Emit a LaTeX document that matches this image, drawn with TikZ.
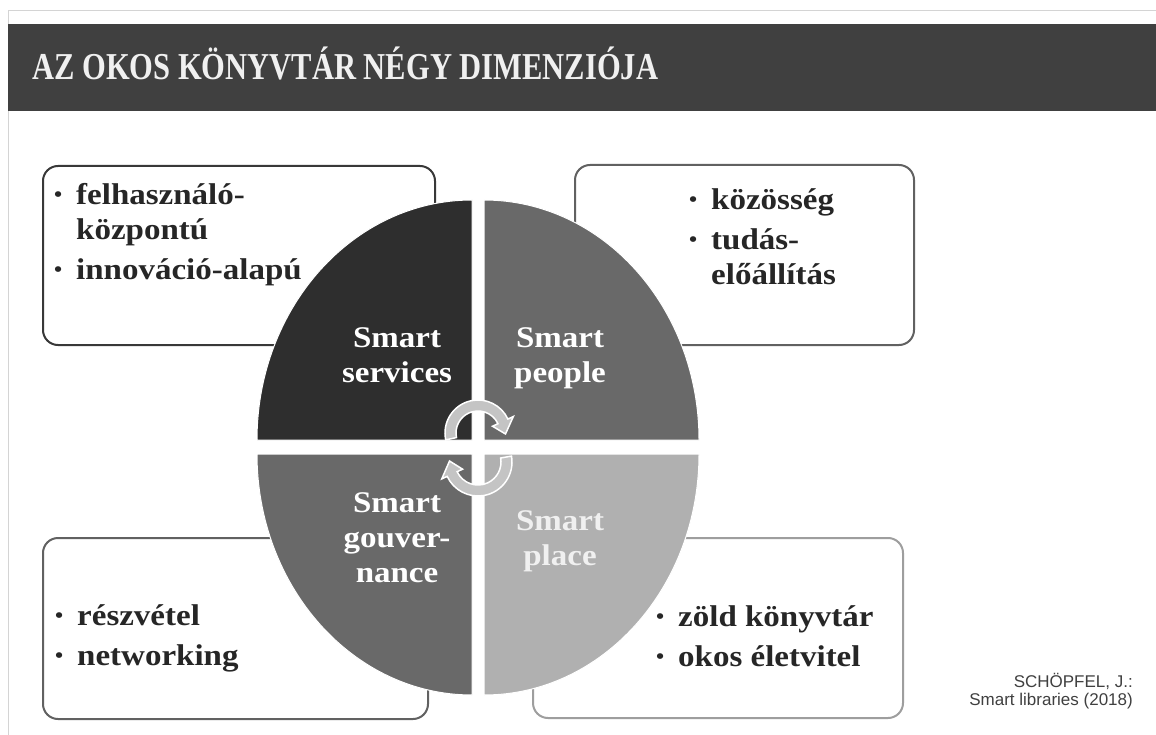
\documentclass[tikz,border=0pt]{standalone}
\usepackage{fontspec}
\setmainfont{Liberation Serif}
\setsansfont{Liberation Sans}
\newfontfamily\widefont{Liberation Serif}[FakeStretch=1.1]
\usepackage{xcolor}
\usetikzlibrary{calc}
\definecolor{bardark}{HTML}{404040}
\definecolor{qdark}{HTML}{2E2E2E}
\definecolor{qmid}{HTML}{696969}
\definecolor{qlight}{HTML}{B0B0B0}
\definecolor{framegray}{HTML}{D4D4D4}
\definecolor{arrowgray}{HTML}{C4C4C4}
\tikzset{
  listbox/.style={rounded corners=15pt, line width=2pt, fill=white},
  quarter/.style={draw=white, line width=1pt},
  listtext/.style={anchor=base west, inner sep=0pt, text=black!85, font=\widefont\bfseries\fontsize{30}{35}\selectfont},
  dimlabel/.style={anchor=base, inner sep=0pt, text=white, font=\widefont\bfseries\fontsize{30}{35}\selectfont},
  turnarrow/.style={fill=arrowgray, draw=white, line width=1.5pt}
}
\newcommand{\bul}{\makebox[22pt][l]{\fontsize{21}{21}\selectfont\raisebox{3pt}{\textbullet}}}

\begin{document}
\begin{tikzpicture}[x=1pt,y=-1pt]
\useasboundingbox (0,0) rectangle (1156,735);
\fill[white] (0,0) rectangle (1156,735);
% frame and title bar
\draw[framegray] (8,735) -- (8,10) -- (1156,10);
\fill[bardark] (8,24) rectangle (1156,111);
\node[anchor=base west, inner sep=0pt, text=white!94!black, font=\bfseries\fontsize{38}{40}\selectfont] (title) at (32,80) {\resizebox{626pt}{\height}{AZ OKOS KÖNYVTÁR NÉGY DIMENZIÓJA}};

% boxes behind the oval
\draw[listbox, draw=black!78] (43,166) rectangle (435,345);
\draw[listbox, draw=black!62] (575,165) rectangle (914,345);
\draw[listbox, draw=black!62] (43,538) rectangle (428,719);
\draw[listbox, draw=black!38] (533,538) rectangle (903,718);

% four quarters
\filldraw[quarter, fill=qdark] (472,440) -- ++(-215,0) arc[start angle=180, end angle=270, x radius=215, y radius=240] -- cycle;
\filldraw[quarter, fill=qmid] (484,440) -- ++(0,-240) arc[start angle=270, end angle=360, x radius=215, y radius=240] -- cycle;
\filldraw[quarter, fill=qmid] (472,454) -- ++(-215,0) arc[start angle=180, end angle=90, x radius=215, y radius=241] -- cycle;
\filldraw[quarter, fill=qlight] (484,454) -- ++(215,0) arc[start angle=0, end angle=90, x radius=215, y radius=241] -- cycle;

% turning arrows
\coordinate (c1) at (478,433);
\coordinate (c2) at (478,462);
\filldraw[turnarrow] ([shift={(168:33)}]c1) arc[start angle=168, end angle=335, radius=33] -- ([shift={(335:39)}]c1) -- ([shift={(362:27.5)}]c1) -- ([shift={(335:16)}]c1) -- ([shift={(335:22)}]c1) arc[start angle=335, end angle=168, radius=22] -- cycle;
\filldraw[turnarrow] ([shift={(-10:34)}]c2) arc[start angle=-10, end angle=155, radius=34] -- ([shift={(155:40)}]c2) -- ([shift={(182:28.5)}]c2) -- ([shift={(155:17)}]c2) -- ([shift={(155:23)}]c2) arc[start angle=155, end angle=-10, radius=23] -- cycle;

% labels of the quarters
\node[dimlabel] (services) at (397,347) {\begin{tabular}[t]{@{}c@{}}Smart\\services\end{tabular}};
\node[dimlabel] (people) at (560,347) {\begin{tabular}[t]{@{}c@{}}Smart\\people\end{tabular}};
\node[dimlabel] (gouvernance) at (397,512) {\begin{tabular}[t]{@{}c@{}}Smart\\gouver-\\nance\end{tabular}};
\node[dimlabel, text=white!94!black] (place) at (560,530) {\begin{tabular}[t]{@{}c@{}}Smart\\place\end{tabular}};

% lists
\node[listtext] (serviceslist) at (54,205) {\begin{tabular}[t]{@{}l@{}}\bul felhasználó-\\\hspace*{22pt}központú\\[5pt]\bul innováció-alapú\end{tabular}};
\node[listtext] (peoplelist) at (689,210) {\begin{tabular}[t]{@{}l@{}}\bul közösség\\[5pt]\bul tudás-\\\hspace*{22pt}előállítás\end{tabular}};
\node[listtext] (gouvlist) at (55,625) {\begin{tabular}[t]{@{}l@{}}\bul részvétel\\[5pt]\bul networking\end{tabular}};
\node[listtext] (placelist) at (656,626) {\begin{tabular}[t]{@{}l@{}}\bul zöld könyvtár\\[5pt]\bul okos életvitel\end{tabular}};

% source
\node[anchor=base east, inner sep=0pt, text=black!75, font=\sffamily\fontsize{17}{18.5}\selectfont] (source) at (1133,687) {\begin{tabular}[t]{@{}r@{}}SCHÖPFEL, J.:\\Smart libraries (2018)\end{tabular}};
\end{tikzpicture}
\end{document}
